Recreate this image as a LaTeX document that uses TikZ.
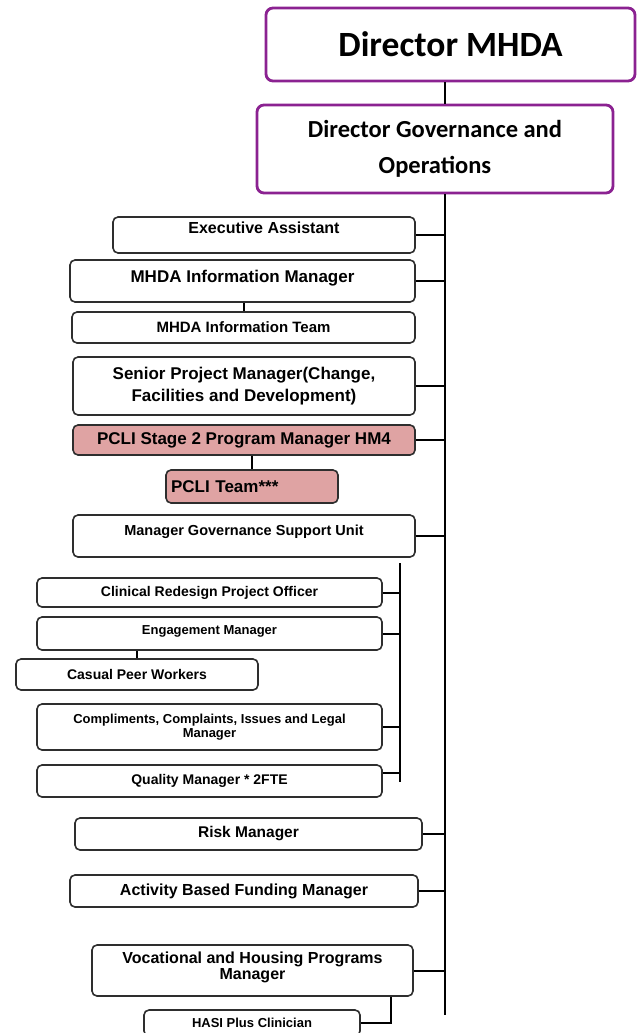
\documentclass[tikz,border=0pt]{standalone}
\usepackage{fontspec}
\setmainfont{Liberation Sans}
\newfontfamily\calfont{Carlito}
\usetikzlibrary{positioning,calc}
\definecolor{MhdaPurple}{HTML}{8B2291}
\definecolor{PcliPink}{HTML}{DFA3A3}
\definecolor{BoxGrey}{HTML}{2E2E2E}

\begin{document}
\begin{tikzpicture}[x=1pt,y=-1pt,
  dir/.style={draw=MhdaPurple,line width=2.8pt,rounded corners=7pt,fill=white,align=center,font=\calfont\bfseries},
  box/.style={draw=BoxGrey,line width=1.6pt,rounded corners=5pt,fill=white,align=center,inner sep=2pt,font=\bfseries},
  pink/.style={box,fill=PcliPink},
  link/.style={draw=black,line width=2pt}]
  \useasboundingbox (0,0) rectangle (637,1033);
  \node[dir,minimum width=369pt,minimum height=73pt,font=\calfont\bfseries\fontsize{35.5}{40}\selectfont] (dir) at (450.5,44.5) {Director MHDA};
  \node[dir,minimum width=356pt,minimum height=88pt,font=\calfont\bfseries\fontsize{24.5}{36}\selectfont] (dgo) at (435,149) {Director Governance and\\Operations};
  \node[box,minimum width=302pt,minimum height=36pt,text depth=14pt,font=\bfseries\fontsize{16}{18}\selectfont] (ea) at (264,235) {Executive Assistant};
  \node[box,minimum width=345pt,minimum height=42pt,text depth=10pt,font=\bfseries\fontsize{17}{19}\selectfont] (mim) at (242.5,281) {MHDA Information Manager};
  \node[box,minimum width=343pt,minimum height=31pt,font=\bfseries\fontsize{15}{17}\selectfont] (mit) at (243.5,327.5) {MHDA Information Team};
  \node[box,minimum width=342pt,minimum height=58pt,font=\bfseries\fontsize{17}{22}\selectfont] (spm) at (244,386) {Senior Project Manager(Change,\\Facilities and Development)};
  \node[pink,minimum width=342pt,minimum height=30pt,font=\bfseries\fontsize{17}{19}\selectfont] (pcli) at (244,440) {PCLI Stage 2 Program Manager HM4};
  \node[pink,minimum height=33pt,text width=162pt,inner sep=5pt,align=left,font=\bfseries\fontsize{17}{19}\selectfont] (pteam) at (252,486.5) {PCLI Team***};
  \node[box,minimum width=342pt,minimum height=42pt,text depth=12pt,font=\bfseries\fontsize{14.5}{17}\selectfont] (mgsu) at (244,536) {Manager Governance Support Unit};
  \node[box,minimum width=345pt,minimum height=29pt,font=\bfseries\fontsize{14}{16}\selectfont] (crpo) at (209.5,592.5) {Clinical Redesign Project Officer};
  \node[box,minimum width=345pt,minimum height=33pt,text depth=7pt,font=\bfseries\fontsize{13}{15}\selectfont] (em) at (209.5,633.5) {Engagement Manager};
  \node[box,minimum width=242pt,minimum height=31pt,font=\bfseries\fontsize{14}{16}\selectfont] (cpw) at (137,674.5) {Casual Peer Workers};
  \node[box,minimum width=345pt,minimum height=46pt,font=\bfseries\fontsize{13}{14}\selectfont] (ccil) at (209.5,727) {Compliments, Complaints, Issues and Legal\\Manager};
  \node[box,minimum width=345pt,minimum height=32pt,font=\bfseries\fontsize{14}{16}\selectfont] (qm) at (209.5,781) {Quality Manager * 2FTE};
  \node[box,minimum width=347pt,minimum height=32pt,font=\bfseries\fontsize{15.5}{17}\selectfont] (risk) at (248.5,834) {Risk Manager};
  \node[box,minimum width=348pt,minimum height=32pt,font=\bfseries\fontsize{16}{18}\selectfont] (abf) at (244,891) {Activity Based Funding Manager};
  \node[box,minimum width=321pt,minimum height=51pt,text depth=10pt,font=\bfseries\fontsize{16}{16}\selectfont] (vhp) at (252.5,970.5) {Vocational and Housing Programs\\Manager};
  \node[box,minimum width=216pt,minimum height=26pt,font=\bfseries\fontsize{13}{15}\selectfont] (hasi) at (252,1023) {HASI Plus Clinician};
  \coordinate (trunk) at (445,1015);
  \coordinate (sub) at (400,563);
  \coordinate (subend) at (400,782);
  \draw[link,line width=2.4pt] (dgo.north -| trunk) -- (dir.south -| trunk);
  \draw[link,line width=2.4pt] (dgo.south -| trunk) -- (trunk);
  \draw[link] (sub) -- (subend);
  \foreach \n in {ea,mim,spm,pcli,mgsu,risk,abf,vhp}
    \draw[link] (\n.east) -- (\n.east -| trunk);
  \foreach \n in {crpo,em,ccil}
    \draw[link] (\n.east) -- (\n.east -| sub);
  \draw[link] ([yshift=8pt]qm.east) -- ([yshift=8pt]qm.east -| sub);
  \draw[link] (mit.north) -- (mit.north |- mim.south);
  \draw[link] (pteam.north) -- (pteam.north |- pcli.south);
  \draw[link] (cpw.north) -- (cpw.north |- em.south);
  \draw[link] (hasi.east) -| ($(vhp.south east)+(-23,0)$);
\end{tikzpicture}
\end{document}
